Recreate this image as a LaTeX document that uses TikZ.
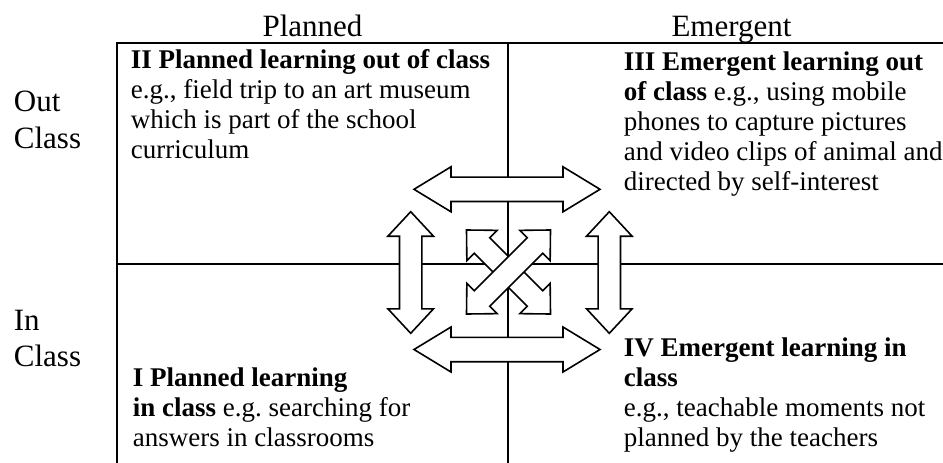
\documentclass[tikz,border=0pt]{standalone}
\usepackage{fontspec}
\setmainfont{Liberation Serif}
% double-headed block arrow: centre, angle, half length, head length, head half width, shaft half width
\newcommand{\dblarrow}[6]{%
  \draw[arrowbody, shift={#1}, rotate=#2]
    (-#3,0) -- (-#3+#4,#5) -- (-#3+#4,#6) -- (#3-#4,#6) -- (#3-#4,#5) -- (#3,0)
    -- (#3-#4,-#5) -- (#3-#4,-#6) -- (-#3+#4,-#6) -- (-#3+#4,-#5) -- cycle;}
\begin{document}
\begin{tikzpicture}[x=1pt, y=-1pt, line width=1.8pt,
    arrowbody/.style={draw, fill=white, line width=1.6pt},
    headlabel/.style={font=\fontsize{31}{36.7}\selectfont, inner sep=0},
    quadtext/.style={font=\fontsize{27}{30}\selectfont, inner sep=0, align=left, anchor=base west}]
  \useasboundingbox (0,0) rectangle (943,463);
  % frame and quadrant lines
  \draw (943,43) -- (117,43) -- (117,463);
  \draw (508,43) -- (508,463);
  \draw (117,264) -- (943,264);
  % block arrows
  \dblarrow{(507,189.3)}{0}{93}{37}{22.5}{12.2}
  \dblarrow{(507,349.5)}{0}{93}{37}{22.5}{12.2}
  \dblarrow{(410.7,272.5)}{90}{60.8}{24.5}{22.8}{11.2}
  \dblarrow{(609.3,272.5)}{90}{60.8}{24.5}{22.8}{11.2}
  \dblarrow{(508.5,272)}{-45}{59.4}{22}{21.5}{11}
  \dblarrow{(508.5,272)}{45}{59.4}{22}{21.5}{11}
  % axis labels (base = last line)
  \node[headlabel, anchor=base] (planned) at (312.5,36.5) {Planned};
  \node[headlabel, anchor=base] (emergent) at (731.5,36) {Emergent};
  \node[headlabel, anchor=base west, align=left] (outcls) at (13,148.3) {Out\\Class};
  \node[headlabel, anchor=base west, align=left] (incls) at (13,366.7) {In\\Class};
  % quadrants (base = last line)
  \node[quadtext] (quadII) at (130,158.3) {\textbf{II Planned learning out of class}\\e.g., field trip to an art museum\\which is part of the school\\curriculum};
  \node[quadtext] (quadIII) at (623,190.7) {\textbf{III Emergent learning out}\\\textbf{of class} e.g., using mobile\\phones to capture pictures\\and video clips of animal and\\directed by self-interest};
  \node[quadtext] (quadI) at (132,446) {\textbf{I Planned learning}\\\textbf{in class} e.g.\ searching for\\answers in classrooms};
  \node[quadtext] (quadIV) at (623,446.7) {\textbf{IV Emergent learning in}\\\textbf{class}\\e.g., teachable moments not\\planned by the teachers};
\end{tikzpicture}
\end{document}
